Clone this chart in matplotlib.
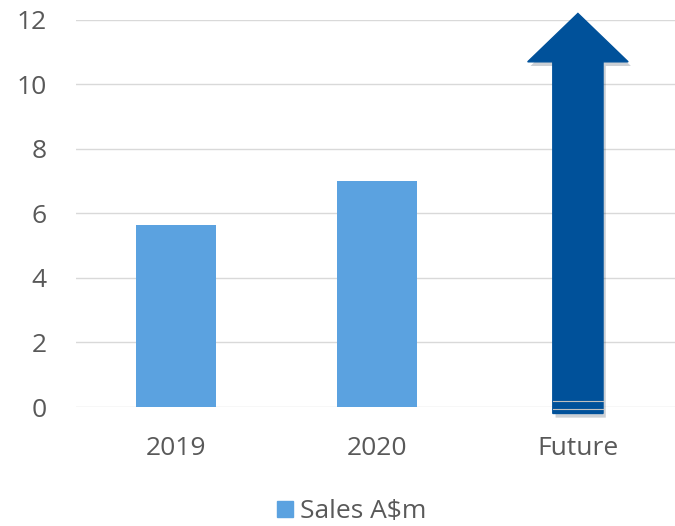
import matplotlib.pyplot as plt
import matplotlib.patheffects as pe
from matplotlib.patches import FancyArrow
from matplotlib.lines import Line2D

# data
categories = ["2019", "2020", "Future"]
sales = [5.65, 7.0, None]
arrow_from = -0.2
arrow_to = 12.2
yticks = [0, 2, 4, 6, 8, 10, 12]

BAR_COLOR = "#5BA2E0"
ARROW_COLOR = "#00519A"
TEXT_COLOR = "#595959"
GRID_COLOR = "#D9D9D9"

plt.rcParams["font.family"] = ["Open Sans", "DejaVu Sans"]

fig = plt.figure(figsize=(6.75, 5.26), dpi=100)
ax = fig.add_axes([0.112, 0.2262, 0.893, 0.736])

x = list(range(len(categories)))
for xi, v in zip(x, sales):
    if v is not None:
        ax.bar(xi, v, width=0.4, color=BAR_COLOR, zorder=2)

# arrow for the future category
fx = x[2]
arr = FancyArrow(fx, arrow_from, 0, arrow_to - arrow_from, width=0.25,
                 head_width=0.5, head_length=1.5, length_includes_head=True,
                 color=ARROW_COLOR, zorder=3, clip_on=False,
                 path_effects=[pe.SimplePatchShadow(offset=(2, -3), alpha=0.2),
                               pe.Normal()])
ax.add_patch(arr)
for yy in (0.2, -0.07):
    ax.plot([fx - 0.125, fx + 0.125], [yy, yy], color="#BFBFBF", lw=0.8,
            zorder=4, clip_on=False)

ax.set_xlim(-0.5, 2.5)
ax.set_ylim(0, 12)
ax.set_yticks(yticks)
ax.set_xticks(x)
ax.set_xticklabels(categories)
ax.yaxis.grid(True, color=GRID_COLOR, lw=1)
ax.set_axisbelow(True)
for s in ax.spines.values():
    s.set_visible(False)
ax.tick_params(length=0, labelsize=19, colors=TEXT_COLOR)
ax.tick_params(axis="x", pad=21)
ax.tick_params(axis="y", pad=21)

handle = Line2D([], [], marker="s", linestyle="none", markersize=12,
                color=BAR_COLOR)
fig.legend([handle], ["Sales A$m"], loc="center", bbox_to_anchor=(0.52, 0.028),
           frameon=False, fontsize=19, labelcolor=TEXT_COLOR,
           handlelength=0.7, handletextpad=0.2)

fig.savefig("out.png", dpi=100, facecolor="white")
